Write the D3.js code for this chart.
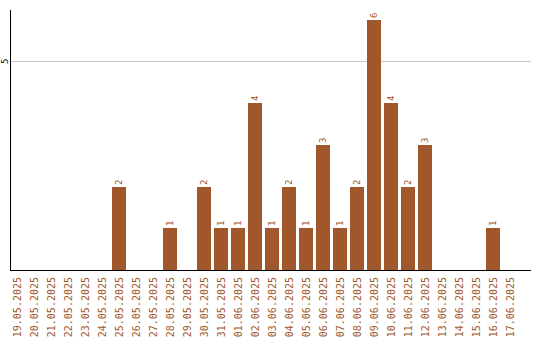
<!DOCTYPE html>
<html>
<head>
<meta charset="utf-8">
<script src="https://cdn.jsdelivr.net/npm/d3@7"></script>
<style>
  body { margin: 0; background: #fff; }
  svg { display: block; }
</style>
</head>
<body>
<svg width="540" height="340"></svg>
<script>
var dates = ["19.05.2025","20.05.2025","21.05.2025","22.05.2025","23.05.2025","24.05.2025",
             "25.05.2025","26.05.2025","27.05.2025","28.05.2025","29.05.2025","30.05.2025",
             "31.05.2025","01.06.2025","02.06.2025","03.06.2025","04.06.2025","05.06.2025",
             "06.06.2025","07.06.2025","08.06.2025","09.06.2025","10.06.2025","11.06.2025",
             "12.06.2025","13.06.2025","14.06.2025","15.06.2025","16.06.2025","17.06.2025"];
var counts = [0,0,0,0,0,0, 2,0,0,1,0,2, 1,1,4,1,2,1, 3,1,2,6,4,2, 3,0,0,0,1,0];
var yTicks = [5];

var barColor = "#a0572b";

var svg = d3.select("svg");

var x = d3.scaleBand()
    .domain(dates)
    .range([10, 517])
    .paddingInner(3 / 17)
    .paddingOuter(0)
    .align(0);

var y = d3.scaleLinear()
    .domain([0, 6])
    .range([270, 19.5]);

var data = dates.map((d, i) => ({date: d, v: counts[i]})).filter(d => d.v > 0);

// grid line
svg.selectAll(".grid")
    .data(yTicks)
    .join("line")
    .attr("x1", 11).attr("x2", 531)
    .attr("y1", d => Math.round(y(d)) + 0.5)
    .attr("y2", d => Math.round(y(d)) + 0.5)
    .attr("stroke", "#c8c8c8")
    .attr("stroke-width", 1);

// bars
svg.selectAll(".bar")
    .data(data)
    .join("rect")
    .attr("x", d => Math.round(x(d.date)))
    .attr("width", Math.round(x.bandwidth()))
    .attr("y", d => Math.round(y(d.v)))
    .attr("height", d => 270 - Math.round(y(d.v)))
    .attr("fill", barColor);

// value labels
svg.selectAll(".val")
    .data(data)
    .join("text")
    .attr("transform", d => "translate(" + (Math.round(x(d.date)) + 10) + "," + (Math.round(y(d.v)) - 2) + ") rotate(-90)")
    .attr("font-family", "DejaVu Sans Mono, monospace")
    .attr("font-size", 9)
    .attr("fill", barColor)
    .text(d => d.v);

// axes lines
svg.append("line")
    .attr("x1", 10.5).attr("x2", 10.5)
    .attr("y1", 10).attr("y2", 271)
    .attr("stroke", "#000");
svg.append("line")
    .attr("x1", 10).attr("x2", 531)
    .attr("y1", 270.5).attr("y2", 270.5)
    .attr("stroke", "#000");

// y tick labels
svg.selectAll(".ylab")
    .data(yTicks)
    .join("text")
    .attr("transform", d => "translate(8," + y(d) + ") rotate(-90)")
    .attr("text-anchor", "middle")
    .attr("font-family", "DejaVu Sans Mono, monospace")
    .attr("font-size", 9)
    .attr("fill", "#000")
    .text(d => d);

// x tick labels
svg.selectAll(".xlab")
    .data(dates)
    .join("text")
    .attr("transform", d => "translate(" + (Math.round(x(d)) + 10.5) + ",277) rotate(-90)")
    .attr("text-anchor", "end")
    .attr("font-family", "DejaVu Sans Mono, monospace")
    .attr("font-size", 10)
    .attr("fill", barColor)
    .text(d => d);
</script>
</body>
</html>
